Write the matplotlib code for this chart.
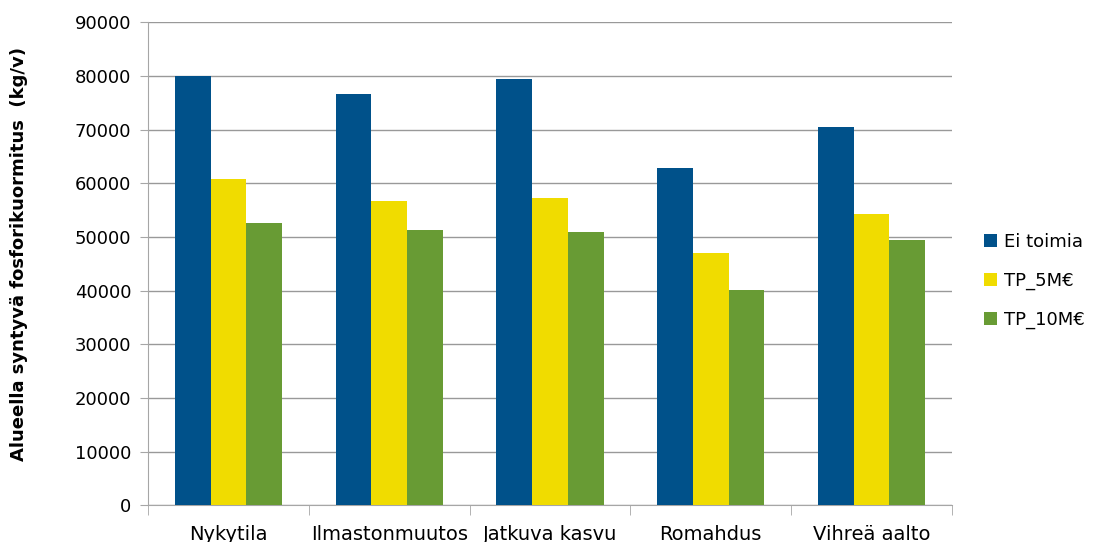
import numpy as np
import matplotlib
matplotlib.use('Agg')
import matplotlib.pyplot as plt

scenarios = ['Nykytila', 'Ilmastonmuutos', 'Jatkuva kasvu', 'Romahdus', 'Vihreä aalto']
ei_toimia = [80000, 76600, 79400, 62900, 70500]
tp_5m = [60800, 56700, 57200, 47100, 54300]
tp_10m = [52700, 51300, 50900, 40200, 49400]

series = [('Ei toimia', ei_toimia, '#00518A'),
          ('TP_5M€', tp_5m, '#F0DC00'),
          ('TP_10M€', tp_10m, '#689B34')]

fig = plt.figure(figsize=(10.94, 5.42), dpi=100)
ax = fig.add_axes([0.1353, 0.0677, 0.7349, 0.8908])

x = np.arange(len(scenarios))
width = 1 / 4.5
for i, (name, vals, color) in enumerate(series):
    ax.bar(x + (i - 1) * width, vals, width, color=color, label=name, zorder=3)

ax.set_xlim(-0.5, len(scenarios) - 0.5)
ax.set_ylim(0, 90000)
ax.set_yticks(np.arange(0, 90001, 10000))
ax.set_xticks(x)
ax.set_xticklabels(scenarios, fontsize=14)
ax.set_xticks(np.arange(-0.5, len(scenarios), 1), minor=True)
ax.tick_params(axis='x', which='major', length=0, pad=14)
ax.tick_params(axis='x', which='minor', length=7, color='#A6A6A6')
ax.tick_params(axis='y', length=6, color='#A6A6A6', labelsize=13, pad=6)

ax.grid(axis='y', color='#999999', linewidth=1, zorder=0)
for side in ['top', 'right']:
    ax.spines[side].set_visible(False)
for side in ['left', 'bottom']:
    ax.spines[side].set_color('#A6A6A6')

ax.set_ylabel('Alueella syntyvä fosforikuormitus  (kg/v)', fontsize=13,
              fontweight='bold')
ax.yaxis.set_label_coords(-0.1496, 0.521)

ax.legend(loc='center left', bbox_to_anchor=(1.02, 0.465), frameon=False,
          fontsize=13, handlelength=0.7, handleheight=0.7, handletextpad=0.4,
          labelspacing=1.15)

fig.savefig('out.png', dpi=100)
